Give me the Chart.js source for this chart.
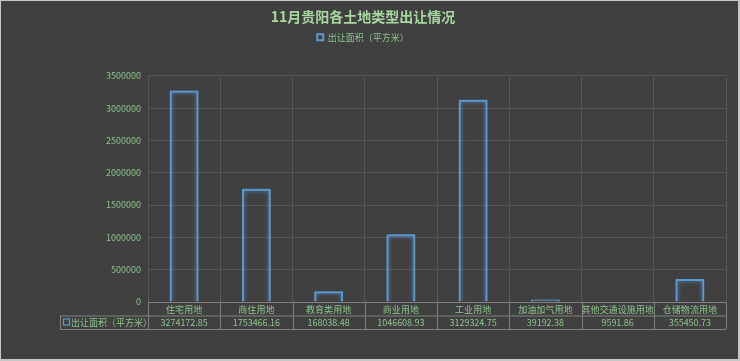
<!DOCTYPE html>
<html>
<head>
<meta charset="utf-8">
<script src="https://cdn.jsdelivr.net/npm/chart.js@4.4.0/dist/chart.umd.min.js"></script>
<style>
  html, body { margin: 0; padding: 0; background: #404040; }
  #wrap { width: 740px; height: 361px; }
</style>
</head>
<body>
<div id="wrap"><canvas id="barChart" width="740" height="361"></canvas></div>
<script>
// categories
let labels = ["住宅用地", "商住用地", "教育类用地", "商业用地", "工业用地", "加油加气用地", "其他交通设施用地", "仓储物流用地"]
// data collected
let areas = [3274172.85, 1753466.16, 168038.48, 1046608.93, 3129324.75, 39192.38, 9591.86, 355450.73]
let valueText = ["3274172.85", "1753466.16", "168038.48", "1046608.93", "3129324.75", "39192.38", "9591.86", "355450.73"]
let seriesName = "出让面积（平方米）"
let tableName = "11月贵阳各土地类型出让情况"

let font = "'Noto Sans CJK SC', 'Noto Sans', sans-serif"
let green = "#8cc48c"
let blue = "#5b9bd5"

// glow on the bar outlines
let glow = {
    id: "glow",
    beforeDatasetsDraw(chart) {
        chart.ctx.save()
        chart.ctx.shadowColor = "rgba(91,155,213,0.9)"
        chart.ctx.shadowBlur = 4
    },
    afterDatasetsDraw(chart) {
        chart.ctx.restore()
    }
}

// extra gap under the legend
let legendGap = {
    id: "legendGap",
    beforeInit(chart) {
        let fit = chart.legend.fit
        chart.legend.fit = function () {
            fit.bind(chart.legend)()
            this.height += 24
        }
    }
}

// data table under the x axis
let dataTable = {
    id: "dataTable",
    afterDraw(chart) {
        let ctx = chart.ctx
        let area = chart.chartArea
        let x = chart.scales.x
        let top = area.bottom
        let rowH = 13.5
        let step = (area.right - area.left) / labels.length
        let keyLeft = 60
        ctx.save()
        ctx.strokeStyle = "#808080"
        ctx.lineWidth = 1
        ctx.beginPath()
        ctx.moveTo(area.left, top + 0.5); ctx.lineTo(area.right, top + 0.5)
        ctx.moveTo(keyLeft, top + rowH + 0.5); ctx.lineTo(area.right, top + rowH + 0.5)
        ctx.moveTo(keyLeft, top + 2 * rowH + 0.5); ctx.lineTo(area.right, top + 2 * rowH + 0.5)
        for (let i = 0; i <= labels.length; i++) {
            let px = Math.round(area.left + i * step) + 0.5
            ctx.moveTo(px, top); ctx.lineTo(px, top + 2 * rowH)
        }
        ctx.moveTo(keyLeft + 0.5, top + rowH); ctx.lineTo(keyLeft + 0.5, top + 2 * rowH)
        ctx.stroke()

        ctx.fillStyle = green
        ctx.font = "9px " + font
        ctx.textAlign = "center"
        ctx.textBaseline = "middle"
        labels.forEach((l, i) => {
            let cx = x.getPixelForValue(i)
            ctx.fillText(l, cx, top + rowH / 2 + 0.5)
            ctx.fillText(valueText[i], cx, top + rowH * 1.5 + 0.5)
        })
        // legend key
        ctx.strokeStyle = blue
        ctx.lineWidth = 1.2
        ctx.strokeRect(63.5, top + rowH + 3.5, 6, 6)
        ctx.textAlign = "left"
        ctx.fillText(seriesName, 71, top + rowH * 1.5 + 0.5)
        // outer frame
        ctx.strokeStyle = "#c8c8c8"
        ctx.lineWidth = 2
        ctx.strokeRect(0, 0, chart.width - 1, chart.height - 1)
        ctx.restore()
    }
}

let myChart = document.getElementById("barChart").getContext("2d")
let chart = new Chart(myChart, {
    type: "bar",
    data: {
        labels: labels,
        datasets: [{
            label: seriesName,
            data: areas,
            backgroundColor: "rgba(0,0,0,0)",
            borderColor: blue,
            borderWidth: 2,
            borderSkipped: "bottom",
            categoryPercentage: 1,
            barPercentage: 0.4
        }]
    },
    options: {
        responsive: false,
        animation: false,
        layout: {
            padding: { left: 0, right: 14, top: 2, bottom: 59 }
        },
        plugins: {
            title: {
                text: tableName,
                display: true,
                color: "#a8d8a0",
                font: { family: font, size: 14, weight: "bold" },
                padding: { top: 6, bottom: 4 }
            },
            legend: {
                display: true,
                labels: {
                    color: green,
                    font: { family: font, size: 9 },
                    boxWidth: 6,
                    boxHeight: 6,
                    padding: 4
                }
            },
            tooltip: { enabled: false }
        },
        scales: {
            x: {
                grid: { color: "#555555", offset: true, drawTicks: false },
                border: { color: "#555555" },
                ticks: { display: false }
            },
            y: {
                min: 0,
                max: 3500000,
                afterFit(s) { s.width = 148 },
                grid: { color: "#555555", drawTicks: false },
                border: { color: "#555555" },
                ticks: {
                    stepSize: 500000,
                    color: green,
                    padding: 7,
                    font: { family: font, size: 9 },
                    callback: v => String(v)
                }
            }
        }
    },
    plugins: [glow, legendGap, dataTable]
})
</script>
</body>
</html>
